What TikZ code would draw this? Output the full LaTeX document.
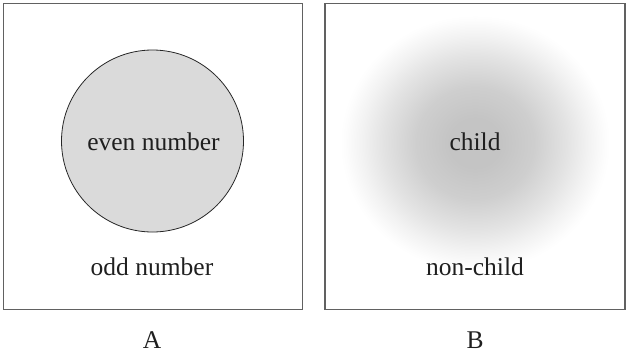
\documentclass[tikz,border=0pt]{standalone}
\usepackage{fontspec}
\setmainfont{Liberation Serif}
\definecolor{framegray}{gray}{0.38}
\definecolor{discfill}{gray}{0.855}
% radial fade: the shaded path's half-width corresponds to 25bp
\pgfdeclareradialshading{fuzzyset}{\pgfpoint{0bp}{0bp}}{%
  color(0bp)=(black!23);
  color(5bp)=(black!23);
  color(11bp)=(black!19);
  color(17bp)=(black!11);
  color(21bp)=(black!5);
  color(24bp)=(black!1);
  color(25bp)=(white);
  color(50bp)=(white)}
\tikzset{
  frame/.style={draw=framegray, line width=1.1pt},
  label/.style={font=\fontsize{25.5pt}{30pt}\selectfont, anchor=base, inner sep=0pt, text=black!88},
}
\begin{document}
\begin{tikzpicture}[x=1pt, y=-1pt]
  \useasboundingbox (0,0) rectangle (626,354);
  % panel A: crisp set
  \node[frame, minimum width=299pt, minimum height=306pt, inner sep=0pt] (boxA) at (153,156.5) {};
  \draw[fill=discfill, draw=black!85, line width=0.8pt] (152.5,141) circle[radius=91] coordinate (disc);
  \node[label] (even) at (153.5,150) {even number};
  \node[label] (odd) at (152,275) {odd number};
  \node[label] (capA) at (152,348) {A};
  % panel B: fuzzy set
  \begin{scope}
    \clip (325,3) rectangle (625,310);
    \shade[shading=fuzzyset] (475,143) ellipse[x radius=135, y radius=128];
  \end{scope}
  \node[frame, minimum width=300pt, minimum height=306pt, inner sep=0pt] (boxB) at (475,156.5) {};
  \node[label] (child) at (475,150) {child};
  \node[label] (nonchild) at (475,275) {non-child};
  \node[label] (capB) at (475,348) {B};
\end{tikzpicture}
\end{document}
